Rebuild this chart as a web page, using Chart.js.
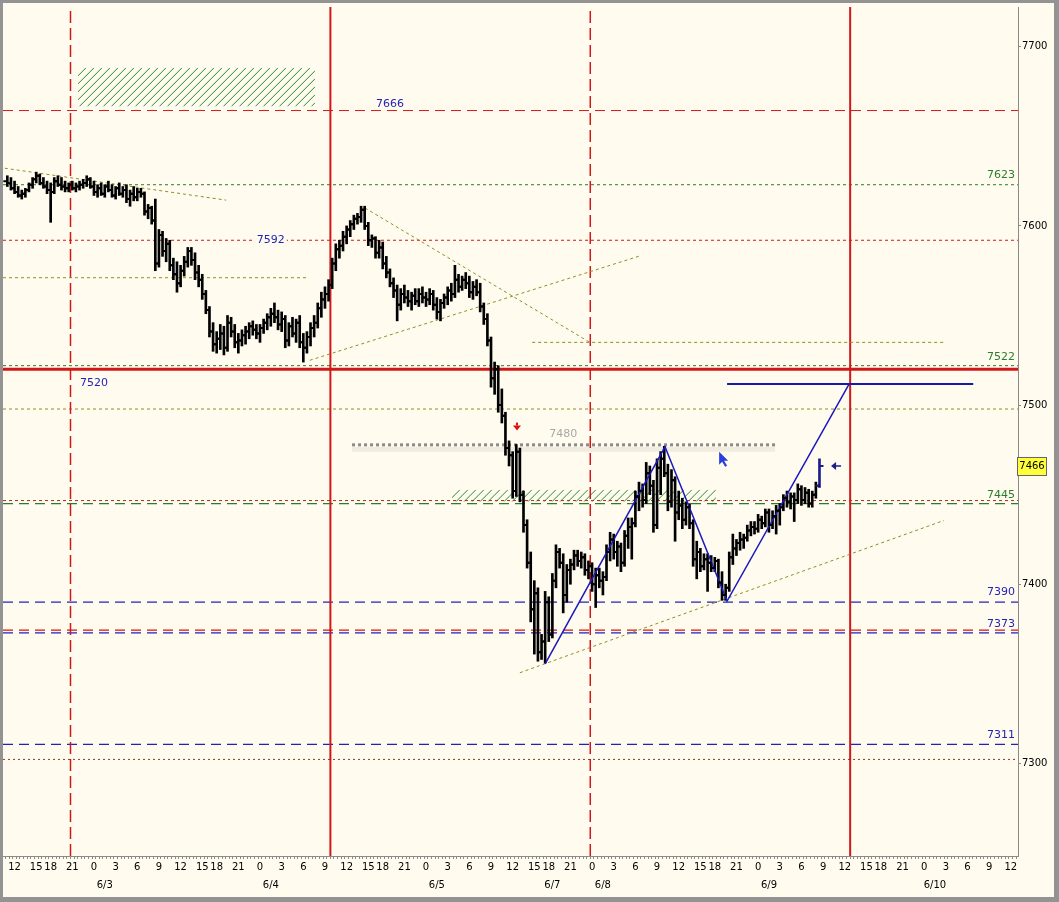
<!DOCTYPE html>
<html>
<head>
<meta charset="utf-8">
<title>6/3 - 6/10 30 min</title>
<style>
  html, body { margin: 0; padding: 0; background: #939393; }
  #wrap { width: 1059px; height: 902px; }
</style>
<script src="https://cdn.jsdelivr.net/npm/chart.js@4.4.1/dist/chart.umd.min.js"></script>
</head>
<body>
<div id="wrap"><canvas id="chart" width="1059" height="902"></canvas></div>
<script>
// bar index: 0 = 6/3 0:00, one bar = 30 min, 46 bars per trading day
const firstBar = -24;

const opens = [
  7625,7624,7621,7619,7617,7618,7620,7623,7626,7628,7624,7622,7620,7619,7625,7623,7622,7621,7623,7621,7622,7623,7624,7626,
  7622,7619,7621,7618,7622,7620,7617,7621,7618,7620,7615,7618,7616,7619,7618,7608,7610,7603,7579,7595,7586,7590,7578,7573,
  7568,7575,7580,7586,7581,7574,7570,7562,7553,7541,7534,7537,7540,7532,7546,7541,7535,7536,7539,7541,7544,7542,7540,7543,
  7546,7549,7551,7549,7545,7548,7536,7544,7540,7546,7535,7532,7538,7543,7546,7554,7559,7562,7567,7579,7587,7589,7594,7598,
  7601,7604,7605,7609,7600,7592,7593,7585,7588,7579,7574,7568,7564,7556,7562,7560,7558,7561,7558,7562,7560,7559,7562,7556,
  7552,7557,7560,7564,7562,7570,7566,7570,7568,7563,7566,7563,7555,7548,7536,7515,7520,7500,7494,7476,7472,7452,7474,7450,
  7433,7412,7386,7395,7362,7368,7390,7372,7402,7418,7412,7394,7408,7411,7416,7413,7415,7408,7410,7400,7405,7402,7404,7418,
  7425,7418,7421,7412,7427,7432,7434,7449,7452,7447,7462,7455,7433,7465,7470,7462,7446,7458,7440,7444,7436,7443,7434,7414,
  7418,7410,7414,7412,7409,7413,7401,7394,7398,7415,7420,7423,7425,7426,7430,7432,7431,7436,7434,7440,7433,7438,7441,7443,
  7448,7446,7449,7447,7453,7447,7451,7445,7450,7455
];
const highs = [
  7628,7627,7625,7622,7620,7621,7624,7627,7630,7629,7627,7625,7624,7627,7628,7627,7625,7624,7625,7624,7625,7626,7628,7627,
  7625,7623,7624,7623,7625,7623,7622,7624,7622,7623,7620,7622,7621,7621,7619,7612,7611,7615,7598,7597,7593,7592,7582,7580,
  7578,7583,7588,7588,7585,7578,7573,7564,7555,7546,7541,7545,7544,7550,7549,7545,7540,7542,7544,7546,7547,7545,7545,7548,
  7551,7554,7557,7553,7552,7550,7546,7549,7548,7550,7540,7541,7546,7550,7557,7563,7566,7570,7582,7590,7592,7597,7600,7603,
  7606,7607,7611,7611,7602,7595,7594,7592,7591,7583,7576,7571,7567,7565,7567,7564,7563,7565,7565,7566,7563,7565,7564,7560,
  7559,7562,7566,7568,7578,7573,7572,7574,7572,7569,7570,7568,7557,7551,7538,7524,7522,7509,7496,7480,7474,7478,7476,7452,
  7436,7418,7402,7398,7372,7396,7393,7406,7422,7420,7417,7411,7414,7419,7419,7418,7417,7413,7412,7409,7409,7407,7422,7429,
  7428,7424,7423,7430,7437,7437,7452,7457,7456,7468,7466,7458,7470,7474,7477,7467,7464,7460,7452,7448,7446,7445,7436,7424,
  7420,7417,7417,7416,7415,7414,7407,7400,7418,7428,7425,7429,7428,7433,7435,7435,7439,7438,7442,7442,7441,7444,7445,7450,
  7452,7451,7451,7456,7455,7454,7453,7452,7457,7470
];
const lows = [
  7622,7620,7618,7616,7615,7616,7619,7621,7624,7623,7621,7618,7602,7618,7622,7620,7619,7619,7620,7619,7620,7621,7622,7621,
  7617,7616,7617,7616,7619,7616,7615,7617,7616,7613,7611,7614,7614,7616,7606,7604,7601,7575,7577,7583,7580,7575,7570,7563,
  7566,7572,7577,7578,7570,7566,7559,7551,7538,7530,7529,7531,7528,7530,7538,7532,7529,7533,7534,7537,7539,7537,7535,7540,
  7542,7544,7546,7542,7541,7532,7533,7538,7535,7532,7524,7529,7533,7538,7543,7549,7554,7558,7565,7575,7582,7586,7590,7594,
  7598,7601,7602,7598,7589,7588,7582,7582,7576,7571,7566,7560,7547,7553,7557,7555,7553,7556,7555,7557,7555,7556,7553,7548,
  7547,7554,7556,7558,7560,7563,7564,7565,7560,7559,7561,7552,7545,7533,7510,7506,7496,7490,7472,7466,7448,7449,7446,7429,
  7409,7379,7361,7357,7358,7356,7368,7370,7398,7409,7384,7390,7400,7408,7410,7409,7405,7403,7396,7387,7398,7394,7402,7413,
  7414,7410,7407,7410,7420,7414,7432,7441,7443,7445,7450,7429,7431,7450,7460,7441,7443,7424,7436,7431,7433,7431,7410,7403,
  7407,7408,7396,7407,7407,7398,7391,7391,7396,7411,7416,7419,7420,7424,7427,7428,7429,7431,7432,7429,7431,7428,7433,7441,
  7443,7442,7435,7445,7444,7445,7443,7443,7448,7454
];
const closes = [
  7624,7621,7619,7617,7618,7620,7623,7626,7628,7624,7622,7620,7619,7625,7623,7622,7621,7623,7621,7622,7623,7624,7626,7622,
  7619,7621,7618,7622,7620,7617,7621,7618,7620,7615,7618,7616,7619,7618,7608,7610,7603,7579,7595,7586,7590,7578,7573,7568,
  7575,7580,7586,7581,7574,7570,7562,7553,7541,7534,7537,7540,7532,7546,7541,7535,7536,7539,7541,7544,7542,7540,7543,7546,
  7549,7551,7549,7545,7548,7536,7544,7540,7546,7535,7532,7538,7543,7546,7554,7559,7562,7567,7579,7587,7589,7594,7598,7601,
  7604,7605,7609,7600,7592,7593,7585,7588,7579,7574,7568,7564,7556,7562,7560,7558,7561,7558,7562,7560,7559,7562,7556,7552,
  7557,7560,7564,7562,7570,7566,7570,7568,7563,7566,7563,7555,7548,7536,7515,7520,7500,7494,7476,7472,7452,7474,7450,7433,
  7412,7386,7395,7362,7368,7390,7372,7402,7418,7412,7394,7408,7411,7416,7413,7415,7408,7410,7400,7405,7402,7404,7418,7425,
  7418,7421,7412,7427,7432,7434,7449,7452,7447,7462,7455,7433,7465,7470,7462,7446,7458,7440,7444,7436,7443,7434,7414,7418,
  7410,7414,7412,7409,7413,7401,7394,7398,7415,7420,7423,7425,7426,7430,7432,7431,7436,7434,7440,7433,7438,7441,7443,7448,
  7446,7449,7447,7453,7447,7451,7445,7450,7455,7466
];
const barIdx = opens.map((_, i) => firstBar + i);

// axis ticks
const hourOffsets = [0, 6, 12, 18, 24, 30, 34, 40];
const hourLabels = ["0", "3", "6", "9", "12", "15", "18", "21"];
const dayStarts = [-46, 0, 46, 92, 138, 184, 230];
const datePos = [3, 49, 95, 127, 141, 187, 233];
const dateLabels = ["6/3", "6/4", "6/5", "6/7", "6/8", "6/9", "6/10"];
const priceTicks = [7300, 7400, 7500, 7600, 7700];
const xMin = -25.2, xMax = 256.0;
const yMin = 7248.3, yMax = 7722.2;

// horizontal levels across the whole chart
const levelValues = [7664.4, 7623, 7592, 7522, 7520, 7497.8, 7446.7, 7445, 7390, 7374.4, 7372.8, 7310.6, 7302.2];
// partial horizontal lines
const segStart = [-25.2, 121.4, 71.5, 175.4];
const segEnd = [59.3, 236.1, 188.7, 243.6];
const segValue = [7571.1, 7535, 7477.8, 7511.7];
// trend lines
const trendX1 = [-24.7, 59.8, 75.1, 118];
const trendY1 = [7632.2, 7525, 7610, 7350.6];
const trendX2 = [36.6, 151.3, 137.4, 235.5];
const trendY2 = [7614.4, 7583.3, 7535, 7435.6];
// zigzag
const zigX = [125, 158.2, 175.4, 209.2];
const zigY = [7355.6, 7476.7, 7390.6, 7511.7];
// vertical lines
const vLines = [-6.5, 65.5, 137.5, 209.5];
// hatched zones
const zoneX1 = [-4.4, 99.2];
const zoneX2 = [61.2, 172.3];
const zoneTop = [7688.3, 7452.8];
const zoneBottom = [7666.7, 7446.1];
// text notes
const noteText = ["7666", "7592", "7520", "7480", "7623", "7522", "7445", "7390", "7373", "7311"];
const noteX = [82, 49, 0, 130, 255.2, 255.2, 255.2, 255.2, 255.2, 255.2];
const noteY = [7667.8, 7592, 7512.2, 7483.9, 7628.3, 7526.7, 7450, 7395.6, 7377.8, 7315.6];
const lastPrice = 7466;

// styles
const RED = "#d01818", GREEN = "#2a7e2a", BLUE = "#2323b8", OLIVE = "#8f8f25";
const levelStyle = [
  [RED, [10, 6], 1], [GREEN, [3, 3], 1], [RED, [3, 3], 1], [GREEN, [3, 3], 1],
  [RED, [], 3], [OLIVE, [3, 3], 1], ["#b02828", [3, 3], 1], [GREEN, [10, 6], 1.2],
  [BLUE, [10, 6], 1.2], [RED, [10, 6], 1.2], [BLUE, [10, 6], 1.2], [BLUE, [10, 6], 1.2],
  ["#8a3a22", [2, 3], 1]
];
const segStyle = [[OLIVE, [3, 3], 1], [OLIVE, [3, 3], 1], ["#8a8a8a", [3, 3], 3], ["#1a1aa8", [], 2]];
const vStyle = [[RED, [12, 5], 1.5], [RED, [], 2], [RED, [12, 5], 1.5], [RED, [], 2]];
const noteColor = [BLUE, BLUE, BLUE, "#a8a8a8", GREEN, GREEN, GREEN, BLUE, BLUE, BLUE];
const FONT = "DejaVu Sans";

function hourLabel(v) {
  for (const d of dayStarts) {
    const k = hourOffsets.indexOf(v - d);
    if (k >= 0) return hourLabels[k];
  }
  return "";
}

function lineSet(points, style, order) {
  return {
    type: "line", data: points, xAxisID: "x", yAxisID: "y",
    borderColor: style[0], borderDash: style[1], borderWidth: style[2],
    pointRadius: 0, fill: false, tension: 0, order: order
  };
}

const datasets = [];
datasets.push({
  type: "bar", xAxisID: "x", yAxisID: "y",
  data: barIdx.map((b, i) => ({ x: b, y: [lows[i], highs[i]] })),
  backgroundColor: barIdx.map((b, i) => i === barIdx.length - 1 ? "#1c1c8c" : "#000"),
  barThickness: 2, grouped: false, borderWidth: 0, order: 1
});
levelValues.forEach((v, i) => datasets.push(lineSet([{ x: xMin, y: v }, { x: xMax, y: v }], levelStyle[i], 3)));
segValue.forEach((v, i) => datasets.push(lineSet([{ x: segStart[i], y: v }, { x: segEnd[i], y: v }], segStyle[i], 2)));
trendX1.forEach((x, i) => datasets.push(lineSet([{ x: x, y: trendY1[i] }, { x: trendX2[i], y: trendY2[i] }], [OLIVE, [3, 3], 1], 2)));
vLines.forEach((x, i) => datasets.push(lineSet([{ x: x, y: yMin }, { x: x, y: yMax }], vStyle[i], 2)));
datasets.push(lineSet(zigX.map((x, i) => ({ x: x, y: zigY[i] })), ["#1a1ac0", [], 1.5], 0));

const frame = {
  id: "frame",
  beforeDraw(chart) {
    const ctx = chart.ctx;
    ctx.save();
    ctx.fillStyle = "#939393";
    ctx.fillRect(0, 0, chart.width, chart.height);
    ctx.fillStyle = "#fffbef";
    ctx.fillRect(3, 3, chart.width - 8, chart.height - 8);
    ctx.restore();
  },
  beforeDatasetsDraw(chart) {
    const { ctx, chartArea: a, scales: { x, y } } = chart;
    ctx.save();
    ctx.beginPath(); ctx.rect(a.left, a.top, a.width, a.height); ctx.clip();
    zoneX1.forEach((x1, i) => {
      const l = x.getPixelForValue(x1), r = x.getPixelForValue(zoneX2[i]);
      const t = y.getPixelForValue(zoneTop[i]), b = y.getPixelForValue(zoneBottom[i]);
      ctx.save();
      ctx.beginPath(); ctx.rect(l, t, r - l, b - t); ctx.clip();
      ctx.strokeStyle = "#2a8a2a"; ctx.lineWidth = 1;
      ctx.beginPath();
      for (let k = l - (b - t); k < r; k += 8) { ctx.moveTo(k, b); ctx.lineTo(k + (b - t), t); }
      ctx.stroke();
      ctx.restore();
    });
    // soft shadow under the 7480 line
    const sy = y.getPixelForValue(segValue[2]);
    const sl = x.getPixelForValue(segStart[2]), sr = x.getPixelForValue(segEnd[2]);
    ctx.fillStyle = "rgba(0,0,0,0.06)";
    ctx.fillRect(sl, sy + 2, sr - sl, 5);
    ctx.restore();
  },
  afterDatasetsDraw(chart) {
    const { ctx, chartArea: a, scales: { x, y } } = chart;
    ctx.save();
    ctx.beginPath(); ctx.rect(a.left, a.top, a.width, a.height); ctx.clip();
    // open / close ticks
    ctx.lineWidth = 2;
    barIdx.forEach((b, i) => {
      const px = x.getPixelForValue(b);
      const yo = y.getPixelForValue(opens[i]), yc = y.getPixelForValue(closes[i]);
      ctx.strokeStyle = i === barIdx.length - 1 ? "#1c1c8c" : "#000";
      ctx.beginPath();
      ctx.moveTo(px - 4, yo); ctx.lineTo(px, yo);
      ctx.moveTo(px, yc); ctx.lineTo(px + 4, yc);
      ctx.stroke();
    });
    // notes
    ctx.font = "11px '" + FONT + "'";
    ctx.textBaseline = "middle";
    noteText.forEach((t, i) => {
      const px = x.getPixelForValue(noteX[i]), py = y.getPixelForValue(noteY[i]);
      ctx.textAlign = noteX[i] > 250 ? "right" : "center";
      if (t === "7592") {
        const w = ctx.measureText(t).width;
        ctx.fillStyle = "#fffbef";
        ctx.fillRect(px - w / 2 - 2, py - 6, w + 4, 12);
      }
      ctx.fillStyle = noteColor[i];
      ctx.fillText(t, px, py);
    });
    // red down marker
    let px = x.getPixelForValue(117.2), py = y.getPixelForValue(7488);
    ctx.fillStyle = "#e01010";
    ctx.beginPath();
    ctx.moveTo(px - 4, py - 1); ctx.lineTo(px + 4, py - 1); ctx.lineTo(px, py + 4); ctx.closePath();
    ctx.fill();
    ctx.fillRect(px - 1, py - 4, 2, 3);
    // blue cursor
    px = x.getPixelForValue(173.2); py = y.getPixelForValue(7474);
    ctx.fillStyle = "#2a3ee0";
    ctx.beginPath();
    ctx.moveTo(px, py); ctx.lineTo(px, py + 13); ctx.lineTo(px + 3, py + 10);
    ctx.lineTo(px + 6, py + 15); ctx.lineTo(px + 8, py + 14); ctx.lineTo(px + 5, py + 9);
    ctx.lineTo(px + 9, py + 9); ctx.closePath();
    ctx.fill();
    // left arrow at last price
    px = x.getPixelForValue(205.6); py = y.getPixelForValue(lastPrice);
    ctx.strokeStyle = "#1c1c8c"; ctx.fillStyle = "#1c1c8c"; ctx.lineWidth = 1.5;
    ctx.beginPath(); ctx.moveTo(px - 3, py); ctx.lineTo(px + 5, py); ctx.stroke();
    ctx.beginPath(); ctx.moveTo(px - 5, py); ctx.lineTo(px, py - 4); ctx.lineTo(px, py + 4); ctx.closePath(); ctx.fill();
    ctx.restore();
    // last price box on the axis
    py = y.getPixelForValue(lastPrice);
    ctx.save();
    ctx.fillStyle = "#ffff3c"; ctx.strokeStyle = "#666"; ctx.lineWidth = 1;
    ctx.fillRect(a.right - 0.5, py - 8.5, 29, 18);
    ctx.strokeRect(a.right - 0.5, py - 8.5, 29, 18);
    ctx.fillStyle = "#000"; ctx.font = "10px '" + FONT + "'";
    ctx.textAlign = "center"; ctx.textBaseline = "middle";
    ctx.fillText(String(lastPrice), a.right + 14, py + 0.5);
    ctx.restore();
  }
};

new Chart(document.getElementById("chart"), {
  type: "bar",
  data: { datasets: datasets },
  options: {
    responsive: false,
    animation: false,
    devicePixelRatio: 1,
    events: [],
    layout: { padding: { left: 3, top: 3, right: 5, bottom: 5 } },
    plugins: { legend: { display: false }, tooltip: { enabled: false } },
    scales: {
      x: {
        type: "linear", position: "bottom", weight: 0, min: xMin, max: xMax, offset: false,
        afterBuildTicks: (s) => {
          const t = [];
          for (let v = Math.ceil(xMin); v <= xMax; v++) t.push({ value: v });
          s.ticks = t;
        },
        afterFit: (s) => { s.height = 20; },
        grid: { drawOnChartArea: false, tickLength: 3, color: "#8a8a8a" },
        border: { color: "#8a8a8a" },
        ticks: {
          autoSkip: false, maxRotation: 0, padding: 2, color: "#000",
          font: { family: FONT, size: 10 },
          callback: (v) => hourLabel(v)
        }
      },
      x2: {
        type: "linear", position: "bottom", weight: 1, min: xMin, max: xMax, offset: false,
        afterBuildTicks: (s) => { s.ticks = datePos.map((v) => ({ value: v })); },
        afterFit: (s) => { s.height = 21; },
        grid: { display: false, drawTicks: false },
        border: { display: false },
        ticks: {
          autoSkip: false, maxRotation: 0, padding: 3, color: "#000",
          font: { family: FONT, size: 10 },
          callback: (v) => dateLabels[datePos.indexOf(v)]
        }
      },
      y: {
        type: "linear", position: "right", min: yMin, max: yMax,
        afterBuildTicks: (s) => { s.ticks = priceTicks.map((v) => ({ value: v })); },
        afterFit: (s) => { s.width = 36; },
        grid: { drawOnChartArea: false, tickLength: 3, color: "#8a8a8a" },
        border: { color: "#8a8a8a" },
        ticks: {
          padding: 1, color: "#000", font: { family: FONT, size: 10 },
          callback: (v) => String(v)
        }
      }
    }
  },
  plugins: [frame]
});
</script>
</body>
</html>
